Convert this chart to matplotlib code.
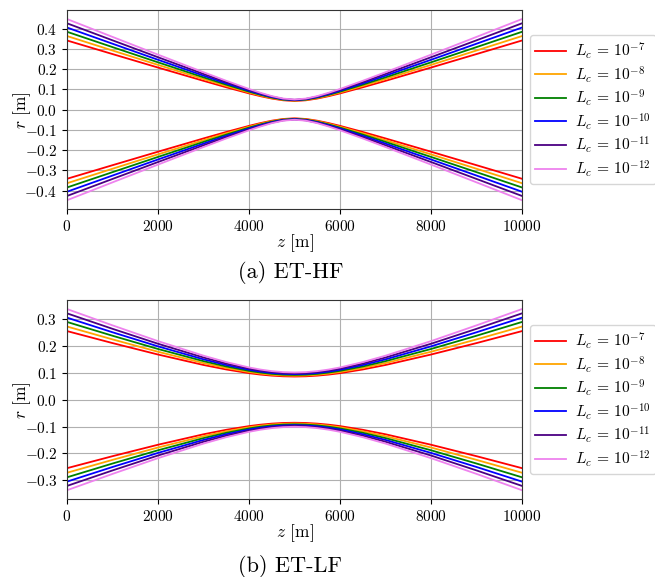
# Beam radius r(z) along the arm for ET-HF and ET-LF, for several L_c

import matplotlib
matplotlib.use("Agg")
import matplotlib.pyplot as plt

plt.rcParams["font.family"] = "serif"
plt.rcParams["font.serif"] = ["cmr10"]
plt.rcParams["mathtext.fontset"] = "cm"
plt.rcParams["axes.formatter.use_mathtext"] = True
plt.rcParams["font.size"] = 11

z = [0, 1000, 2000, 3000, 3500, 4000, 4250, 4500, 4750, 5000,
     5250, 5500, 5750, 6000, 6500, 7000, 8000, 9000, 10000]

labels = [r"$L_c\,=\,10^{-7}$", r"$L_c\,=\,10^{-8}$", r"$L_c\,=\,10^{-9}$",
          r"$L_c\,=\,10^{-10}$", r"$L_c\,=\,10^{-11}$", r"$L_c\,=\,10^{-12}$"]
colors = ["red", "orange", "green", "blue", "indigo", "violet"]

# upper branch of r [m]; the lower branch is -r
hf_r = [
    [.342, .2748, .2081, .1424, .1105, .0803, .0666, .0548, .0462, .0430,
     .0462, .0548, .0666, .0803, .1105, .1424, .2081, .2748, .342],
    [.364, .2924, .2213, .1512, .1171, .0848, .0700, .0572, .0479, .0444,
     .0479, .0572, .0700, .0848, .1171, .1512, .2213, .2924, .364],
    [.385, .3092, .2339, .1596, .1235, .0891, .0734, .0596, .0496, .0458,
     .0496, .0596, .0734, .0891, .1235, .1596, .2339, .3092, .385],
    [.406, .3260, .2465, .1681, .1299, .0934, .0767, .0621, .0513, .0472,
     .0513, .0621, .0767, .0934, .1299, .1681, .2465, .3260, .406],
    [.427, .3428, .2591, .1765, .1362, .0978, .0801, .0645, .0530, .0486,
     .0530, .0645, .0801, .0978, .1362, .1765, .2591, .3428, .427],
    [.448, .3597, .2718, .1850, .1426, .1021, .0834, .0669, .0547, .0500,
     .0547, .0669, .0834, .1021, .1426, .1850, .2718, .3597, .448],
]

lf_r = [
    [.255, .2104, .1678, .1289, .1122, .0985, .0932, .0893, .0868, .0860,
     .0868, .0893, .0932, .0985, .1122, .1289, .1678, .2104, .255],
    [.272, .2241, .1781, .1360, .1178, .1028, .0970, .0926, .0899, .0890,
     .0899, .0926, .0970, .1028, .1178, .1360, .1781, .2241, .272],
    [.289, .2377, .1884, .1431, .1234, .1071, .1008, .0960, .0930, .0920,
     .0930, .0960, .1008, .1071, .1234, .1431, .1884, .2377, .289],
    [.305, .2506, .1982, .1499, .1288, .1113, .1045, .0993, .0961, .0950,
     .0961, .0993, .1045, .1113, .1288, .1499, .1982, .2506, .305],
    [.321, .2634, .2079, .1567, .1342, .1155, .1082, .1027, .0992, .0980,
     .0992, .1027, .1082, .1155, .1342, .1567, .2079, .2634, .321],
    [.337, .2763, .2177, .1635, .1397, .1197, .1119, .1060, .1023, .1010,
     .1023, .1060, .1119, .1197, .1397, .1635, .2177, .2763, .337],
]

fig = plt.figure(figsize=(6.55, 5.77), dpi=100)
ax1 = fig.add_axes([0.1023, 0.6373, 0.6947, 0.3454])
ax2 = fig.add_axes([0.1023, 0.1347, 0.6947, 0.3454])


def draw(ax, data, yticks):
    for r, c, lab in zip(data, colors, labels):
        ax.plot(z, r, color=c, lw=1.3, label=lab)
        ax.plot(z, [-v for v in r], color=c, lw=1.3)
    ax.set_xlim(0, 10000)
    ax.set_xticks([0, 2000, 4000, 6000, 8000, 10000])
    ax.set_yticks(yticks)
    ax.grid(True, color="#b0b0b0", lw=0.8)
    for s in ax.spines.values():
        s.set_color("#333333")
    ax.set_xlabel(r"$z$ [m]", fontsize=12.5, labelpad=-1.5)
    ax.set_ylabel(r"$r$ [m]", fontsize=12.5)
    ax.yaxis.set_label_coords(-0.075, 0.5)
    ax.legend(loc="center left", bbox_to_anchor=(1.0, 0.5), fontsize=11.2,
              handlelength=2.0, handletextpad=0.55, labelspacing=0.17,
              borderpad=0.35)


draw(ax1, hf_r, [-0.4, -0.3, -0.2, -0.1, 0.0, 0.1, 0.2, 0.3, 0.4])
draw(ax2, lf_r, [-0.3, -0.2, -0.1, 0.0, 0.1, 0.2, 0.3])

fig.text(0.4432, 1 - 272 / 577, "(a) ET-HF", ha="center", va="center", fontsize=16)
fig.text(0.4432, 1 - 566 / 577, "(b) ET-LF", ha="center", va="center", fontsize=16)

fig.savefig("out.png", dpi=100)
